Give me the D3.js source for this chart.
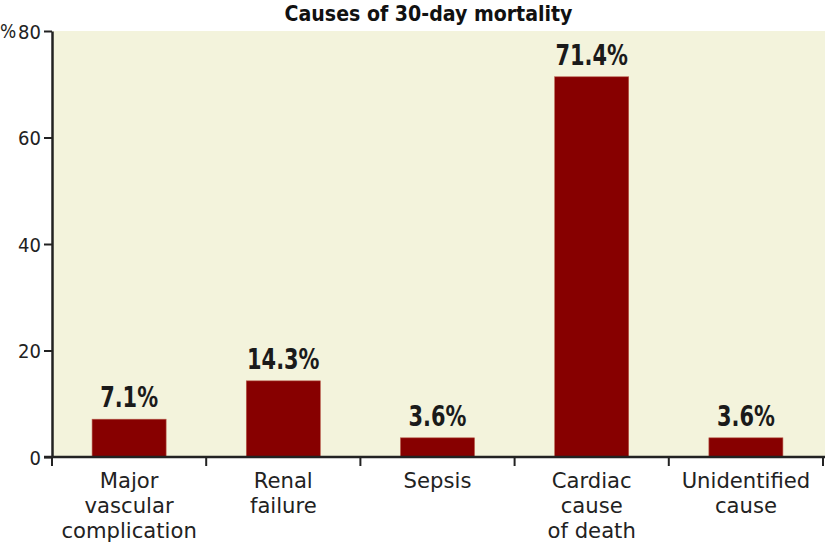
<!DOCTYPE html>
<html><head><meta charset="utf-8">
<script src="https://cdn.jsdelivr.net/npm/d3@7"></script>
<style>body{margin:0;background:#fff}svg{display:block}</style>
</head><body><svg id="c" width="825" height="546"></svg>
<script>
const categories = [["Major","vascular","complication"],["Renal","failure"],["Sepsis"],["Cardiac","cause","of death"],["Unidentified","cause"]];
const values = [7.1, 14.3, 3.6, 71.4, 3.6];
const valueLabels = ["7.1%","14.3%","3.6%","71.4%","3.6%"];
const yTicks = [0,20,40,60,80];
const title = "Causes of 30-day mortality";

const FONT = "'DejaVu Sans Condensed','Liberation Sans Narrow',sans-serif";
const svg = d3.select("#c");
const m = {l:52, r:2, t:31, b:89};
const W = 825, H = 546;
const x = d3.scaleBand().domain(d3.range(values.length)).range([m.l, W - m.r]).paddingInner(0).paddingOuter(0);
const y = d3.scaleLinear().domain([0,80]).range([H - m.b, m.t]);

svg.append("rect").attr("x", m.l).attr("y", m.t).attr("width", W - m.l).attr("height", H - m.b - m.t).attr("fill", "#f3f3dc");

svg.append("text").attr("transform",`translate(${(283+574)/2},21) scale(0.96,1)`).attr("text-anchor","middle")
  .attr("font-family", FONT).attr("font-weight","bold").attr("font-size", 22).attr("fill","#111").text(title);

const bw = x.bandwidth()*0.48;
svg.selectAll("rect.bar").data(values).join("rect").attr("class","bar")
  .attr("x",(d,i)=>x(i)+x.bandwidth()/2-bw/2).attr("width",bw)
  .attr("y",d=>y(d)).attr("height",d=>y(0)-y(d))
  .attr("fill","#870000").attr("stroke","#b85a4a").attr("stroke-width",0.6);

svg.selectAll("text.val").data(values).join("text").attr("class","val")
  .attr("transform",(d,i)=>`translate(${x(i)+x.bandwidth()/2},${y(d)-12}) scale(0.8,1)`)
  .attr("text-anchor","middle").attr("font-family",FONT).attr("font-weight","bold")
  .attr("font-size",29).attr("fill","#1a1a1a").text((d,i)=>valueLabels[i]);

// y axis
const ya = svg.append("g").attr("transform",`translate(${m.l},0)`)
  .call(d3.axisLeft(y).tickValues(yTicks).tickSize(8).tickSizeOuter(0).tickPadding(3));
ya.select(".domain").attr("stroke","#222").attr("stroke-width",2.5);
ya.selectAll(".tick line").attr("stroke","#222").attr("stroke-width",2);
ya.selectAll(".tick text").attr("font-family",FONT).attr("font-size",20).attr("fill","#222").attr("dy","0.36em");
svg.append("text").attr("x",0).attr("y",y(80)+7).attr("font-family",FONT).attr("font-size",19).attr("fill","#222").text("%");

// x axis
const xa = svg.append("g").attr("transform",`translate(0,${y(0)})`);
xa.append("line").attr("x1",m.l-8).attr("x2",W).attr("stroke","#222").attr("stroke-width",2.5);
const bounds = d3.range(values.length+1).map(i => i<values.length ? x(i) : x(values.length-1)+x.bandwidth());
xa.selectAll("line.t").data(bounds).join("line").attr("class","t")
  .attr("x1",d=>d).attr("x2",d=>d).attr("y1",0).attr("y2",9).attr("stroke","#222").attr("stroke-width",2);
categories.forEach((lines,i)=>{
  const t = xa.append("text").attr("transform",`translate(${x(i)+x.bandwidth()/2},0) scale(1.12,1)`)
    .attr("text-anchor","middle").attr("font-family",FONT).attr("font-size",21).attr("fill","#222");
  lines.forEach((ln,j)=>t.append("tspan").attr("x",0).attr("y",31+j*25).text(ln));
});
</script></body></html>
